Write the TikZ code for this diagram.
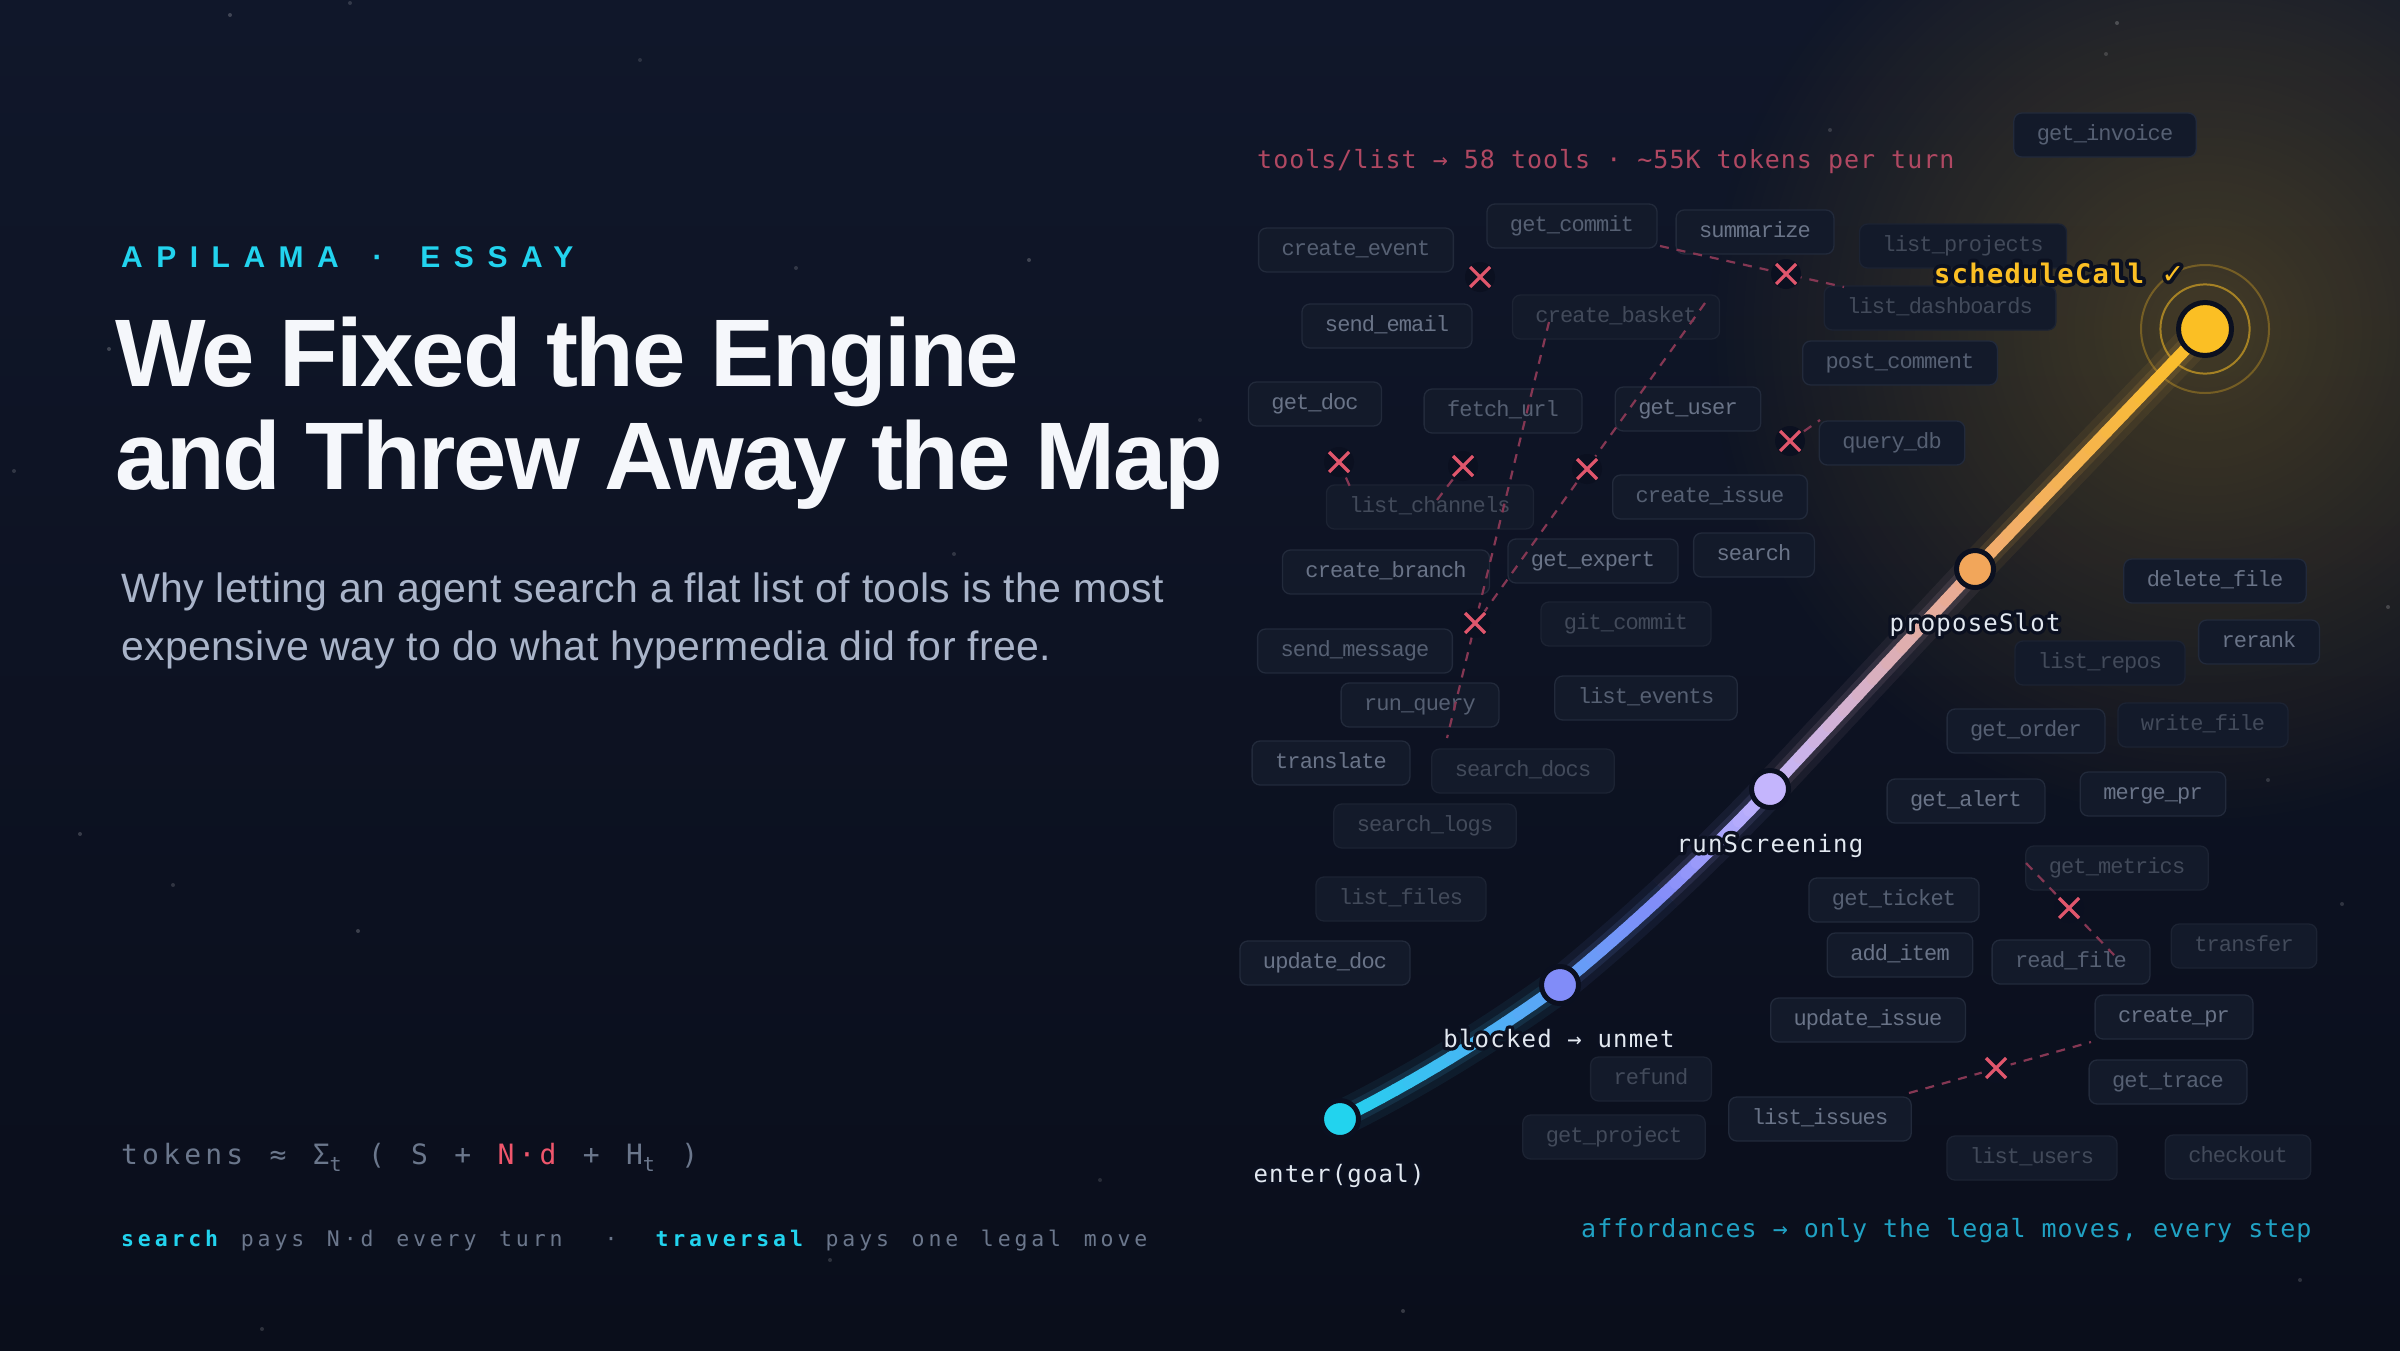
\documentclass[tikz,border=0pt]{standalone}
\usepackage{fontspec}
\setmainfont{Liberation Sans}
\newfontfamily\chipfont[LetterSpace=-4]{Liberation Mono}
\newfontfamily\labfont[LetterSpace=5]{DejaVu Sans Mono}
\newfontfamily\halofont[LetterSpace=5,FakeBold=28]{DejaVu Sans Mono}
\newfontfamily\halobfont[LetterSpace=5,FakeBold=28]{DejaVu Sans Mono Bold}
\newfontfamily\halosym[FakeBold=28]{DejaVu Sans Bold}
\newfontfamily\topfont[LetterSpace=4]{DejaVu Sans Mono}
\newfontfamily\formfont[LetterSpace=15,WordSpace=1.25]{DejaVu Sans Mono}
\newfontfamily\botfont[LetterSpace=18,WordSpace=1.35]{DejaVu Sans Mono}
\newfontfamily\kickfont[LetterSpace=45]{Liberation Sans}
\newfontfamily\titlefont[LetterSpace=-2.3]{Liberation Sans}
\newfontfamily\subfont[LetterSpace=1]{Liberation Sans}
\newfontfamily\symfont{DejaVu Sans}
\usetikzlibrary{calc,fadings}
\pgfdeclarelayer{front}
\pgfsetlayers{main,front}

\definecolor{bgtop}{HTML}{10172A}
\definecolor{bgbot}{HTML}{0A0E1B}
\definecolor{haloc}{HTML}{0B1020}
\definecolor{chipfill}{HTML}{131A2A}
\definecolor{chipline}{HTML}{222A3B}
\definecolor{chiplineC}{HTML}{1C2333}
\definecolor{tA}{HTML}{6A7488}
\definecolor{tB}{HTML}{566073}
\definecolor{tC}{HTML}{424A5A}
\definecolor{dashc}{HTML}{853753}
\definecolor{xred}{HTML}{E0566C}
\definecolor{cyanc}{HTML}{22D3EE}
\definecolor{redtxt}{HTML}{B04862}
\definecolor{afftxt}{HTML}{20A2C4}
\definecolor{greytxt}{HTML}{6B778C}
\definecolor{nred}{HTML}{F0566C}
\definecolor{titlec}{HTML}{F5F7FB}
\definecolor{subc}{HTML}{A9B4C9}
\definecolor{labc}{HTML}{E2E8F0}
\definecolor{cE}{HTML}{22D3EE}
\definecolor{cEB}{HTML}{5EA2F7}
\definecolor{cB}{HTML}{818CF8}
\definecolor{cM}{HTML}{838CF8}
\definecolor{cR}{HTML}{C4B5FD}
\definecolor{cRP}{HTML}{ECAA88}
\definecolor{cPS}{HTML}{F0AA74}
\definecolor{cP}{HTML}{F2A65A}
\definecolor{cS}{HTML}{FBBF24}

\tikzfading[name=glowfade, inner color=transparent!0, outer color=transparent!100]

\tikzset{
  chip/.style={draw=chipline, fill=chipfill, rounded corners=8, line width=1.3,
    inner xsep=23, inner ysep=0, minimum height=44, text height=15, text depth=4,
    font=\chipfont\fontsize{22}{26}\selectfont},
  chipA/.style={text=tA},
  chipB/.style={text=tB},
  chipC/.style={text=tC, draw=chiplineC},
  dashlink/.style={draw=dashc, line width=2.2, dash pattern=on 9 off 8},
  dotnode/.style={circle, draw=haloc, line width=5, minimum size=37, inner sep=0},
  bigdot/.style={minimum size=53},
  pathline/.style={line width=12, line cap=round},
  lab/.style={font=\labfont\fontsize{24}{28}\selectfont, text=labc, inner sep=0, anchor=base},
  slab/.style={font=\labfont\bfseries\fontsize{27}{30}\selectfont, text=cS, inner sep=0, anchor=base west},
  halo/.style={text=haloc, line join=round},
  xbg/.style={fill=haloc},
  xline/.style={draw=xred, line width=3.2}
}

\newcommand\chip[5]{\node[chip,#5] (#1) at (#2,#3) {#4};}
\newcommand\xmark[3]{%
  \coordinate (#1) at (#2,#3);
  \fill[xbg] (#1) circle (15);
  \draw[xline] ($(#1)+(-10,-10)$) -- ($(#1)+(10,10)$);
  \draw[xline] ($(#1)+(-10,10)$) -- ($(#1)+(10,-10)$);}
\newcommand\gseg[6]{%
  \foreach \i in {1,...,#6}{%
    \pgfmathsetmacro\ta{(\i-1)/#6}%
    \pgfmathsetmacro\tb{\i/#6}%
    \pgfmathsetmacro\pc{100*(\i-0.5)/#6}%
    \draw[pathline, color={#5!\pc!#4}] ($($(#1)!\ta!(#2)$)!\ta!($(#2)!\ta!(#3)$)$) -- ($($(#1)!\tb!(#2)$)!\tb!($(#2)!\tb!(#3)$)$);%
  }}
\newcommand\gglow[4]{%
  \draw[line width=36, color=#4, opacity=0.07] (#1) .. controls ($(#1)!0.6667!(#2)$) and ($(#3)!0.6667!(#2)$) .. (#3);
  \draw[line width=22, color=#4, opacity=0.12] (#1) .. controls ($(#1)!0.6667!(#2)$) and ($(#3)!0.6667!(#2)$) .. (#3);}
% name, x, y, style, halo text, main text
\newcommand\halolabel[6]{%
  \node[#4, halo] at (#2,#3) {#5};
  \node[#4] (#1) at (#2,#3) {#6};}

\begin{document}
\begin{tikzpicture}[x=1pt,y=-1pt]
\useasboundingbox (0,0) rectangle (2400,1350);
\shade[top color=bgtop, bottom color=bgbot] (0,0) rectangle (2400,1350);

% warm glow around the goal
\fill[cS, path fading=glowfade, fill opacity=0.22] (2205,329) circle (500);

% faint stars
\foreach \sx/\sy/\so in {230/15/0.2,350/3/0.15,2117/23/0.2,2106/54/0.15,109/349/0.2,796/268/0.15,1029/260/0.2,14/471/0.15,954/554/0.15,80/834/0.18,173/885/0.15,358/931/0.2,2388/607/0.18,2342/904/0.15,1919/937/0.15,1403/1311/0.18,262/1329/0.15,1830/130/0.15,830/1260/0.15,1100/1180/0.12,2300/1280/0.15,640/60/0.12,1200/420/0.12,2268/780/0.15}
  \fill[white, opacity=\so] (\sx,\sy) circle (2);

% ---- tool chips ----
\chip{cev}{1356}{250}{create\_event}{chipB}
\chip{gcm}{1572}{226}{get\_commit}{chipB}
\chip{sum}{1755}{232}{summarize}{chipA}
\chip{sem}{1387}{326}{send\_email}{chipA}
\chip{cbk}{1616}{317}{create\_basket}{chipC}
\chip{gdc}{1315}{404}{get\_doc}{chipA}
\chip{fur}{1503}{411}{fetch\_url}{chipB}
\chip{gus}{1688}{409}{get\_user}{chipA}
\chip{lch}{1430}{507}{list\_channels}{chipC}
\chip{cis}{1710}{497}{create\_issue}{chipB}
\chip{cbr}{1386}{572}{create\_branch}{chipA}
\chip{gex}{1593}{561}{get\_expert}{chipA}
\chip{sea}{1754}{555}{search}{chipA}
\chip{smg}{1355}{651}{send\_message}{chipB}
\chip{gitc}{1626}{624}{git\_commit}{chipC}
\chip{rqy}{1420}{705}{run\_query}{chipB}
\chip{lev}{1646}{698}{list\_events}{chipB}
\chip{trn}{1331}{763}{translate}{chipA}
\chip{sdc}{1523}{771}{search\_docs}{chipC}
\chip{slg}{1425}{826}{search\_logs}{chipC}
\chip{lfl}{1401}{899}{list\_files}{chipC}
\chip{udc}{1325}{963}{update\_doc}{chipA}
\chip{ginv}{2105}{135}{get\_invoice}{chipB}
\chip{lpj}{1963}{246}{list\_projects}{chipC}
\chip{ldb}{1940}{308}{list\_dashboards}{chipC}
\chip{pcm}{1900}{363}{post\_comment}{chipB}
\chip{qdb}{1892}{443}{query\_db}{chipB}
\chip{dfl}{2215}{581}{delete\_file}{chipA}
\chip{rrk}{2259}{642}{rerank}{chipA}
\chip{lrp}{2100}{663}{list\_repos}{chipC}
\chip{gor}{2026}{731}{get\_order}{chipB}
\chip{wfl}{2203}{725}{write\_file}{chipC}
\chip{gal}{1966}{801}{get\_alert}{chipA}
\chip{mpr}{2153}{794}{merge\_pr}{chipA}
\chip{gmt}{2117}{868}{get\_metrics}{chipC}
\chip{gtk}{1894}{900}{get\_ticket}{chipB}
\chip{adi}{1900}{955}{add\_item}{chipA}
\chip{rfl}{2071}{962}{read\_file}{chipB}
\chip{trf}{2244}{946}{transfer}{chipC}
\chip{uis}{1868}{1020}{update\_issue}{chipA}
\chip{cpr}{2174}{1017}{create\_pr}{chipA}
\chip{gtr}{2168}{1082}{get\_trace}{chipB}
\chip{rfd}{1651}{1079}{refund}{chipC}
\chip{gpj}{1614}{1137}{get\_project}{chipC}
\chip{lis}{1820}{1119}{list\_issues}{chipA}
\chip{lus}{2032}{1158}{list\_users}{chipC}
\chip{cko}{2238}{1157}{checkout}{chipC}

% ---- dead-end search paths ----
\coordinate (d1a) at (1660,246); \coordinate (d1b) at (1844,287);
\coordinate (d2b) at (1820,420);
\coordinate (d4b) at (1351,489);
\coordinate (d5b) at (1437,500);
\coordinate (d6a) at (1549,322); \coordinate (d6b) at (1447,738);
\coordinate (d7a) at (1705,303); \coordinate (d7b) at (1482,615);
\coordinate (d8a) at (2026,863); \coordinate (d8b) at (2114,955);
\coordinate (d9a) at (1909,1093); \coordinate (d9b) at (2091,1042);
\draw[dashlink] (d1a) -- (d1b);
\draw[dashlink] (1790,441) -- (d2b);
\draw[dashlink] (1339,462) -- (d4b);
\draw[dashlink] (1463,466) -- (d5b);
\draw[dashlink] (d6a) -- (d6b);
\draw[dashlink] (d7a) -- (d7b);
\draw[dashlink] (d8a) -- (d8b);
\draw[dashlink] (d9a) -- (d9b);
\xmark{x1}{1786}{274}
\xmark{x2}{1790}{441}
\xmark{x3}{1480}{277}
\xmark{x4}{1339}{462}
\xmark{x5}{1463}{466}
\xmark{x6}{1475}{623}
\xmark{x7}{1587}{469}
\xmark{x8}{2069}{908}
\xmark{x9}{1996}{1068}

% ---- texts ----
\node[anchor=base west, inner sep=0, text=cyanc, font=\kickfont\bfseries\fontsize{30}{34}\selectfont] (kick) at (121,267) {APILAMA\ \hspace{12pt}·\ \hspace{16pt}ESSAY};
\node[anchor=base west, inner sep=0, text=titlec, font=\titlefont\bfseries\fontsize{96}{104}\selectfont] (t1) at (115,386) {We Fixed the Engine};
\node[anchor=base west, inner sep=0, text=titlec, font=\titlefont\bfseries\fontsize{96}{104}\selectfont] (t2) at (115,489) {and Threw Away the Map};
\node[anchor=base west, inner sep=0, text=subc, font=\subfont\fontsize{41}{48}\selectfont] (s1) at (121,602) {Why letting an agent search a flat list of tools is the most};
\node[anchor=base west, inner sep=0, text=subc, font=\subfont\fontsize{41}{48}\selectfont] (s2) at (121,660) {expensive way to do what hypermedia did for free.};
\node[anchor=base west, inner sep=0, text=greytxt, font=\formfont\fontsize{28}{32}\selectfont] (form) at (121,1164)
  {tokens ≈ Σ\raisebox{-7pt}{\fontsize{20}{20}\selectfont t} ( S + \textcolor{nred}{N·d} + H\raisebox{-7pt}{\fontsize{20}{20}\selectfont t} )};
\node[anchor=base west, inner sep=0, text=greytxt, font=\botfont\fontsize{21.5}{26}\selectfont] (bot) at (121,1246)
  {\textcolor{cyanc}{\bfseries search} pays N·d every turn\hspace{42pt}·\hspace{38pt}\textcolor{cyanc}{\bfseries traversal} pays one legal move};
\node[anchor=base west, inner sep=0, text=redtxt, font=\topfont\fontsize{25}{30}\selectfont] (toptxt) at (1257,168) {tools/list → 58 tools · \textasciitilde 55K tokens per turn};
\node[anchor=base west, inner sep=0, text=afftxt, font=\topfont\fontsize{25}{30}\selectfont] (afftxt) at (1581,1237) {affordances → only the legal moves, every step};

% ---- goal rings ----
\draw[cS, opacity=0.55, line width=2] (2205,329) circle (44.6);
\draw[cS, opacity=0.3, line width=2] (2205,329) circle (64);

% ---- traversal nodes and labels (front) ----
\begin{pgfonlayer}{front}
\node[dotnode, fill=cE] (E) at (1340,1119) {};
\node[dotnode, fill=cB] (B) at (1560,985) {};
\node[dotnode, fill=cR] (R) at (1770,789) {};
\node[dotnode, fill=cP] (P) at (1975,569) {};
\node[dotnode, bigdot, fill=cS] (S) at (2205,329) {};
\halolabel{lE}{1339}{1182}{lab}{\halofont enter(goal)}{enter(goal)}
\halolabel{lB}{1559}{1047}{lab}{\halofont blocked → unmet}{blocked → unmet}
\halolabel{lR}{1770}{852}{lab}{\halofont runScreening}{runScreening}
\halolabel{lP}{1975}{631}{lab}{\halofont proposeSlot}{proposeSlot}
\halolabel{lS}{1934}{283}{slab}{\halobfont scheduleCall {\halosym ✓}}{scheduleCall {\symfont\bfseries ✓}}
\end{pgfonlayer}

% ---- traversal path ----
\coordinate (qEB) at (1450.5,1063.75);
\coordinate (M) at (1665.25,892.9);
\coordinate (qBM) at (1612.75,941.9);
\coordinate (qMR) at (1717.75,843.9);
\coordinate (qRP) at ($(R.center)!0.5!(P.center)$);
\coordinate (qPS) at ($(P.center)!0.5!(S.center)$);
\gglow{E.center}{qEB}{B.center}{cE!50!cEB}
\gglow{B.center}{qBM}{M}{cEB!50!cM}
\gglow{M}{qMR}{R.center}{cM!50!cR}
\gglow{R.center}{qRP}{P.center}{cR!50!cRP}
\gglow{P.center}{qPS}{S.center}{cPS!50!cS}
\gseg{E.center}{qEB}{B.center}{cE}{cEB}{16}
\gseg{B.center}{qBM}{M}{cEB}{cM}{10}
\gseg{M}{qMR}{R.center}{cM}{cR}{10}
\gseg{R.center}{qRP}{P.center}{cR}{cRP}{14}
\gseg{P.center}{qPS}{S.center}{cPS}{cS}{14}
\end{tikzpicture}
\end{document}
